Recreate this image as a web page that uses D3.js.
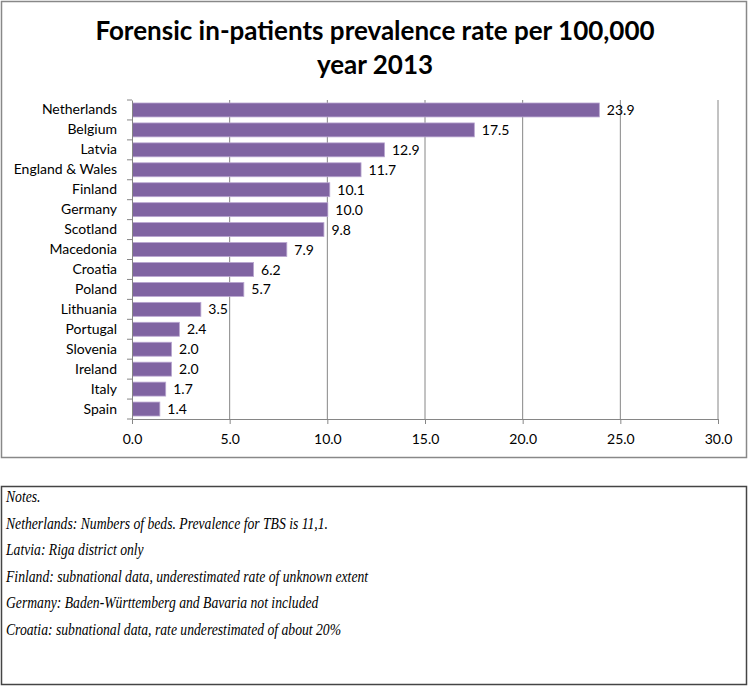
<!DOCTYPE html>
<html>
<head>
  <style>
    body { margin: 0; padding: 0; background: #fff; }
    #chart { position: absolute; left: 0; top: 0; }
    .tick text { font-family: Lato, "Open Sans", sans-serif; font-size: 14px; fill: #000; }
    .note { font-family: "Liberation Serif", "DejaVu Serif", Tinos, "Times New Roman", serif; font-style: italic; font-size: 16px; fill: #000; }
  </style>
</head>
<body>
  <div id="chart"></div>
  <script src="https://d3js.org/d3.v7.min.js"></script>
  <script>
    // data
    const countries = ["Netherlands", "Belgium", "Latvia", "England & Wales", "Finland", "Germany",
      "Scotland", "Macedonia", "Croatia", "Poland", "Lithuania", "Portugal", "Slovenia", "Ireland", "Italy", "Spain"];
    const rates = [23.9, 17.5, 12.9, 11.7, 10.1, 10.0, 9.8, 7.9, 6.2, 5.7, 3.5, 2.4, 2.0, 2.0, 1.7, 1.4];
    const xTicks = [0, 5, 10, 15, 20, 25, 30];
    const titleLines = ["Forensic in-patients prevalence rate per 100,000", "year 2013"];
    const notes = [
      "Notes.",
      "Netherlands: Numbers of beds. Prevalence for TBS is 11,1.",
      "Latvia: Riga district only",
      "Finland: subnational data, underestimated rate of unknown extent",
      "Germany:  Baden-Württemberg and Bavaria not included",
      "Croatia: subnational data, rate underestimated of about 20%"
    ];

    const W = 749, H = 687;
    const svg = d3.select("#chart").append("svg").attr("width", W).attr("height", H);

    // chart frame
    svg.append("rect").attr("x", 1.5).attr("y", 1.5).attr("width", 745).attr("height", 456)
      .attr("fill", "#fff").attr("stroke", "#888").attr("stroke-width", 1.5);

    // title
    svg.append("g").selectAll("text").data(titleLines).enter().append("text")
      .attr("x", 375).attr("y", (d, i) => 40 + i * 34)
      .attr("text-anchor", "middle")
      .style("font-family", "Lato, 'Open Sans', sans-serif")
      .style("font-weight", "bold").style("font-size", "26px")
      .text(d => d);

    const margin = { left: 132, top: 100 };
    const pw = 718 - 132, ph = 419 - 100;
    const g = svg.append("g").attr("transform", `translate(${margin.left},${margin.top})`);

    const x = d3.scaleLinear().domain([0, 30]).range([0, pw]);
    const y = d3.scaleBand().domain(countries).range([0, ph]).paddingInner(0.3).paddingOuter(0.15);

    // gridlines
    g.selectAll(".grid").data(xTicks.slice(1)).enter().append("line")
      .attr("x1", d => x(d)).attr("x2", d => x(d)).attr("y1", 0).attr("y2", ph)
      .attr("stroke", "#868686").attr("stroke-width", 1);

    // bars
    g.selectAll(".bar").data(rates).enter().append("rect")
      .attr("x", 0.5).attr("y", (d, i) => y(countries[i]))
      .attr("width", d => x(d)).attr("height", y.bandwidth())
      .attr("fill", "#8064A2").attr("stroke", "#B9A6D0").attr("stroke-width", 0.8);

    // value labels
    g.selectAll(".val").data(rates).enter().append("text")
      .attr("x", d => x(d) + 8).attr("y", (d, i) => y(countries[i]) + y.bandwidth() / 2)
      .attr("dy", "0.36em")
      .style("font-family", "Lato, 'Open Sans', sans-serif").style("font-size", "14px")
      .text(d => d.toFixed(1));

    // x axis
    const xAxis = g.append("g").attr("transform", `translate(0,${ph})`)
      .call(d3.axisBottom(x).tickValues(xTicks).tickFormat(d3.format(".1f")).tickSize(5).tickSizeOuter(0));
    xAxis.selectAll("path, line").attr("stroke", "#868686");
    xAxis.selectAll("text").attr("dy", "1.2em");

    // y axis with ticks at category boundaries
    const yAxis = g.append("g").call(d3.axisLeft(y).tickSize(0).tickPadding(15));
    yAxis.select(".domain").attr("stroke", "#868686");
    g.selectAll(".ytick").data(d3.range(countries.length + 1)).enter().append("line")
      .attr("x1", -5).attr("x2", 0)
      .attr("y1", i => i * (ph / countries.length)).attr("y2", i => i * (ph / countries.length))
      .attr("stroke", "#868686");

    // notes box
    svg.append("rect").attr("x", 1.5).attr("y", 486.5).attr("width", 745).attr("height", 198)
      .attr("fill", "none").attr("stroke", "#444").attr("stroke-width", 1.5);
    const noteText = svg.append("g").selectAll("text").data(notes).enter().append("text")
      .attr("class", "note")
      .attr("x", 6).attr("y", (d, i) => 502 + i * 26.6)
      .text(d => d);
    // fit widths to the reference (line 2 is ~322px wide)
    const sx = 322 / noteText.nodes()[1].getComputedTextLength();
    noteText.each(function () {
      const len = this.getComputedTextLength();
      d3.select(this).attr("textLength", len * sx).attr("lengthAdjust", "spacingAndGlyphs");
    });
  </script>
</body>
</html>
